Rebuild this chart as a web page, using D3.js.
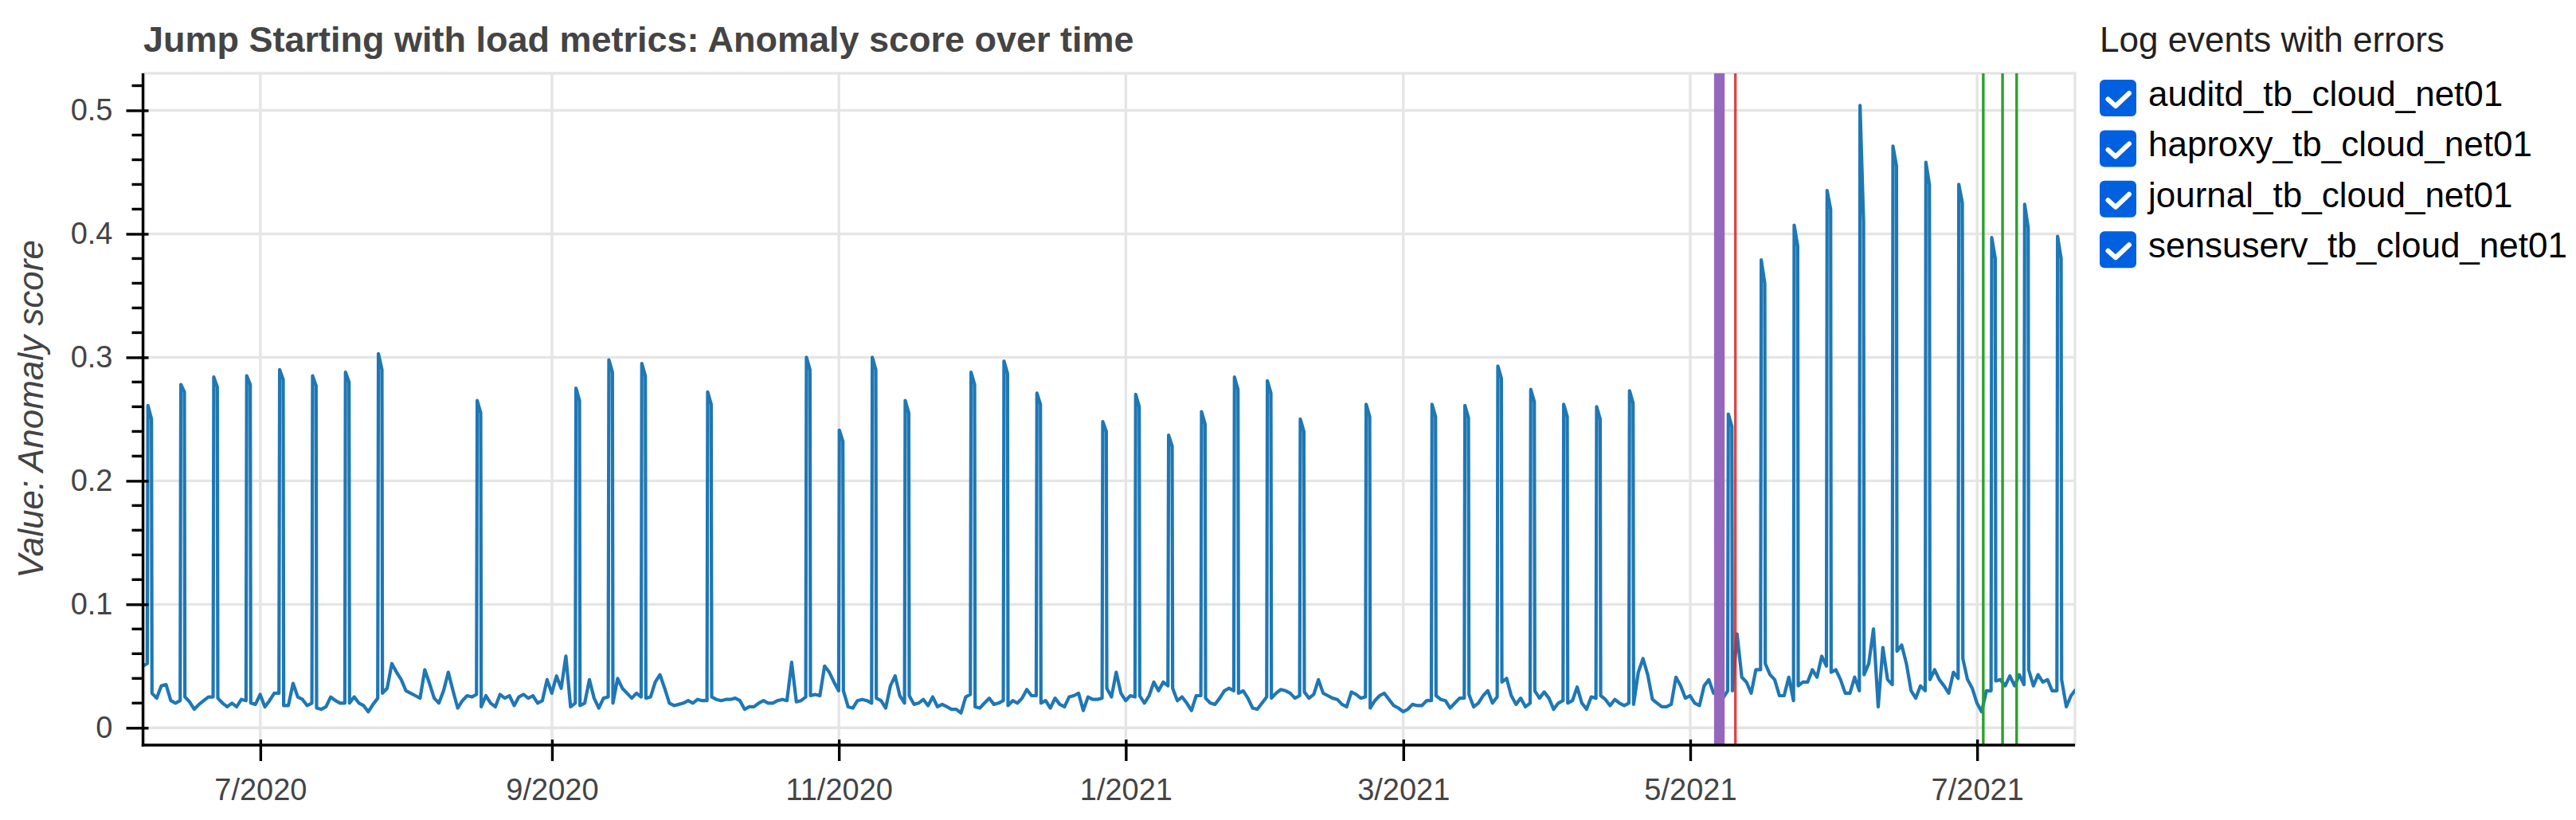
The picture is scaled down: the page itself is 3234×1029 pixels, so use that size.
<!DOCTYPE html>
<html><head><meta charset="utf-8">
<script src="https://cdn.jsdelivr.net/npm/d3@7"></script>
<style>
html,body{margin:0;padding:0;background:#fff;}
svg{display:block;}
</style></head><body>
<svg id="chart" width="3234" height="1029"></svg>
<script>
// ---------------- DATA ----------------
const chartTitle = "Jump Starting with load metrics: Anomaly score over time";
const yAxisLabel = "Value: Anomaly score";
const legendTitle = "Log events with errors";
const logNames = ["auditd_tb_cloud_net01", "haproxy_tb_cloud_net01", "journal_tb_cloud_net01", "sensuserv_tb_cloud_net01"];

// daily anomaly score samples (baseline between the weekly spikes)
const seriesStart = "2020-06-05T23:00:00Z";
const seriesStepHours = 24;
const scores = [
0.050,0.052,0.028,0.024,0.034,0.035,0.022,0.020,0.022,0.025,
0.021,0.015,0.019,0.022,0.025,0.025,0.024,0.020,0.017,0.020,
0.017,0.023,0.022,0.020,0.019,0.027,0.017,0.022,0.028,0.028,
0.018,0.018,0.036,0.025,0.023,0.018,0.020,0.016,0.015,0.017,
0.025,0.022,0.020,0.020,0.020,0.025,0.020,0.018,0.013,0.019,
0.024,0.028,0.032,0.052,0.045,0.039,0.030,0.028,0.026,0.024,
0.047,0.036,0.024,0.020,0.030,0.045,0.030,0.016,0.022,0.026,
0.025,0.027,0.017,0.026,0.020,0.017,0.027,0.024,0.026,0.018,
0.025,0.027,0.024,0.026,0.020,0.022,0.039,0.028,0.042,0.032,
0.058,0.017,0.020,0.018,0.020,0.039,0.024,0.016,0.024,0.025,
0.020,0.040,0.032,0.028,0.024,0.028,0.025,0.024,0.025,0.037,
0.043,0.032,0.020,0.018,0.019,0.020,0.022,0.020,0.023,0.022,
0.022,0.025,0.023,0.022,0.023,0.023,0.024,0.022,0.015,0.017,
0.017,0.020,0.022,0.020,0.020,0.022,0.023,0.022,0.053,0.021,
0.022,0.025,0.026,0.027,0.026,0.050,0.045,0.037,0.030,0.030,
0.017,0.016,0.022,0.023,0.022,0.020,0.024,0.022,0.016,0.034,
0.042,0.026,0.020,0.026,0.019,0.020,0.023,0.018,0.025,0.017,
0.019,0.017,0.015,0.015,0.012,0.025,0.027,0.017,0.016,0.020,
0.024,0.019,0.020,0.022,0.018,0.022,0.020,0.024,0.031,0.026,
0.026,0.020,0.022,0.016,0.024,0.019,0.017,0.025,0.026,0.028,
0.014,0.025,0.023,0.023,0.024,0.032,0.025,0.045,0.028,0.022,
0.026,0.025,0.026,0.020,0.026,0.037,0.030,0.037,0.034,0.032,
0.022,0.025,0.020,0.014,0.026,0.026,0.024,0.020,0.019,0.024,
0.030,0.032,0.030,0.028,0.030,0.024,0.016,0.015,0.020,0.025,
0.024,0.028,0.031,0.030,0.028,0.024,0.026,0.029,0.024,0.027,
0.039,0.028,0.026,0.024,0.023,0.019,0.017,0.029,0.027,0.024,
0.025,0.016,0.022,0.026,0.028,0.023,0.018,0.016,0.013,0.015,
0.019,0.018,0.018,0.022,0.022,0.026,0.023,0.022,0.016,0.020,
0.024,0.024,0.027,0.017,0.020,0.026,0.030,0.020,0.025,0.037,
0.040,0.026,0.019,0.024,0.017,0.020,0.030,0.024,0.029,0.024,
0.015,0.020,0.022,0.020,0.022,0.033,0.020,0.015,0.025,0.024,
0.026,0.023,0.018,0.023,0.020,0.018,0.020,0.019,0.045,0.056,
0.043,0.023,0.020,0.017,0.017,0.019,0.041,0.034,0.024,0.026,
0.020,0.018,0.034,0.039,0.028,0.030,0.024,0.030,0.030,0.076,
0.041,0.037,0.028,0.047,0.047,0.052,0.043,0.039,0.026,0.026,
0.041,0.022,0.034,0.037,0.037,0.047,0.041,0.058,0.050,0.045,
0.047,0.039,0.028,0.028,0.041,0.030,0.043,0.052,0.080,0.017,
0.065,0.039,0.035,0.062,0.067,0.052,0.030,0.024,0.034,0.030,
0.039,0.047,0.039,0.034,0.028,0.045,0.040,0.056,0.039,0.032,
0.020,0.013,0.030,0.030,0.038,0.039,0.034,0.042,0.034,0.043,
0.035,0.047,0.034,0.043,0.037,0.039,0.030,0.030,0.039,0.017,
0.026,0.031
];

// weekly spikes: start time, peak value, value at end of the spike plateau
const spikeHours = 18;
const spikeTimes = [
"2020-06-07T02:24Z","2020-06-14T02:24Z","2020-06-21T02:24Z","2020-06-28T02:24Z","2020-07-05T02:24Z",
"2020-07-12T02:24Z","2020-07-19T02:24Z","2020-07-26T02:24Z","2020-08-16T02:24Z","2020-09-06T02:24Z",
"2020-09-13T02:24Z","2020-09-20T02:24Z","2020-10-04T02:24Z","2020-10-25T02:24Z","2020-11-01T02:24Z",
"2020-11-08T02:24Z","2020-11-15T02:24Z","2020-11-29T02:24Z","2020-12-06T02:24Z","2020-12-13T02:24Z",
"2020-12-27T02:24Z","2021-01-03T02:24Z","2021-01-10T02:24Z","2021-01-17T02:24Z","2021-01-24T02:24Z",
"2021-01-31T02:24Z","2021-02-07T02:24Z","2021-02-21T02:24Z","2021-03-07T02:24Z","2021-03-14T02:24Z",
"2021-03-21T02:24Z","2021-03-28T02:24Z","2021-04-04T02:24Z","2021-04-11T02:24Z","2021-04-18T02:24Z",
"2021-05-09T02:24Z","2021-05-16T02:24Z","2021-05-23T02:24Z","2021-05-30T02:24Z","2021-06-06T02:24Z",
"2021-06-13T02:24Z","2021-06-20T02:24Z","2021-06-27T02:24Z","2021-07-04T02:24Z","2021-07-11T02:24Z",
"2021-07-18T02:24Z"
];
const spikePeaks = [
0.261,0.278,0.284,0.285,0.290,0.285,0.288,0.303,0.265,0.275,
0.298,0.295,0.272,0.300,0.241,0.300,0.265,0.288,0.297,0.271,
0.248,0.270,0.237,0.256,0.284,0.281,0.250,0.262,0.262,0.261,
0.293,0.274,0.262,0.260,0.273,0.254,0.379,0.407,0.435,0.504,
0.471,0.458,0.440,0.397,0.424,0.398
];
const spikeTails = [
0.250,0.272,0.276,0.278,0.282,0.277,0.280,0.290,0.255,0.265,
0.288,0.285,0.262,0.290,0.232,0.290,0.255,0.278,0.287,0.262,
0.240,0.260,0.228,0.246,0.274,0.271,0.240,0.252,0.252,0.251,
0.283,0.264,0.252,0.250,0.263,0.244,0.360,0.390,0.420,0.410,
0.455,0.440,0.425,0.380,0.405,0.380
];

// log events with errors (vertical markers)
const eventLog   = ["sensuserv_tb_cloud_net01","journal_tb_cloud_net01","haproxy_tb_cloud_net01","haproxy_tb_cloud_net01","haproxy_tb_cloud_net01"];
const eventStart = ["2021-05-06T01:40Z","2021-05-10T14:24Z","2021-07-02T07:12Z","2021-07-06T09:36Z","2021-07-09T09:36Z"];
const eventEnd   = ["2021-05-08T07:40Z","2021-05-10T14:24Z","2021-07-02T07:12Z","2021-07-06T09:36Z","2021-07-09T09:36Z"];
const logColors  = ["#ff7f0e","#2ca02c","#d62728","#9467bd"];

const xDomain = ["2020-06-06T07:12Z","2021-07-21T19:12Z"];
const yDomain = [-0.014, 0.53];
const xTickDates  = ["2020-07-01Z","2020-09-01Z","2020-11-01Z","2021-01-01Z","2021-03-01Z","2021-05-01Z","2021-07-01Z"];
const xTickLabels = ["7/2020","9/2020","11/2020","1/2021","3/2021","5/2021","7/2021"];
const yTickValues = [0,0.1,0.2,0.3,0.4,0.5];
const yTickLabels = ["0","0.1","0.2","0.3","0.4","0.5"];
const yMinorStep = 0.02;

// ---------------- DRAW ----------------
const FONT = '"Liberation Sans", Arial, Helvetica, sans-serif';
const svg = d3.select("#chart");
const frame = {left: 181, right: 2605, top: 92, bottom: 935};

const parse = s => new Date(s.endsWith("Z") && s.length <= 11 ? s.slice(0,-1) + "T00:00:00Z" : s);
const x = d3.scaleUtc().domain(xDomain.map(parse)).range([frame.left, frame.right]);
const y = d3.scaleLinear().domain(yDomain).range([frame.bottom, frame.top]);

// build series
const t0 = parse(seriesStart).getTime();
let pts = scores.map((v, i) => ({t: new Date(t0 + i * seriesStepHours * 3600e3), v}));
spikeTimes.forEach((s, i) => {
  const ts = parse(s);
  pts.push({t: ts, v: spikePeaks[i]});
  pts.push({t: new Date(ts.getTime() + spikeHours * 3600e3), v: spikeTails[i]});
});
pts.sort((a, b) => a.t - b.t);

const defs = svg.append("defs");
defs.append("clipPath").attr("id", "clip").append("rect")
  .attr("x", frame.left).attr("y", frame.top)
  .attr("width", frame.right - frame.left).attr("height", frame.bottom - frame.top);

const GRID = "#e5e5e5";
// grid
const grid = svg.append("g");
grid.selectAll(".gy").data(yTickValues).join("line")
  .attr("x1", frame.left).attr("x2", frame.right)
  .attr("y1", d => y(d)).attr("y2", d => y(d))
  .attr("stroke", GRID).attr("stroke-width", 3.4);
grid.selectAll(".gx").data(xTickDates).join("line")
  .attr("x1", d => x(parse(d))).attr("x2", d => x(parse(d)))
  .attr("y1", frame.top).attr("y2", frame.bottom)
  .attr("stroke", GRID).attr("stroke-width", 3.4);
// outline
svg.append("rect").attr("x", frame.left).attr("y", frame.top)
  .attr("width", frame.right - frame.left).attr("height", frame.bottom - frame.top)
  .attr("fill", "none").attr("stroke", GRID).attr("stroke-width", 3.4);

// line
const line = d3.line().x(d => x(d.t)).y(d => y(d.v));
svg.append("path").datum(pts)
  .attr("clip-path", "url(#clip)")
  .attr("d", line).attr("fill", "none")
  .attr("stroke", "#1f77b4").attr("stroke-width", 4.2)
  .attr("stroke-linejoin", "round");

// events
const evG = svg.append("g").attr("clip-path", "url(#clip)");
eventStart.forEach((s, i) => {
  const col = logColors[logNames.indexOf(eventLog[i])];
  const x0 = x(parse(s)), x1 = x(parse(eventEnd[i]));
  const w = Math.max(3.4, x1 - x0);
  evG.append("rect")
    .attr("x", (x0 + x1) / 2 - w / 2).attr("y", frame.top)
    .attr("width", w).attr("height", frame.bottom - frame.top)
    .attr("fill", col).attr("opacity", col === "#d62728" ? 0.85 : 1);
});

// axes
const AX = "#000", LBL = "#444";
const yAxisG = svg.append("g").attr("transform", `translate(${frame.left - 1.5},0)`);
yAxisG.call(d3.axisLeft(y).tickValues(yTickValues).tickFormat((d, i) => yTickLabels[i])
  .tickSize(21).tickSizeOuter(0).tickPadding(17));
yAxisG.select(".domain").remove();
yAxisG.selectAll(".tick line").attr("x1", 7).attr("stroke", AX).attr("stroke-width", 3.4);
yAxisG.selectAll(".tick text").attr("font-family", FONT).attr("font-size", 38).attr("fill", LBL);
const minorVals = d3.range(0, yDomain[1], yMinorStep).filter(v => !yTickValues.some(t => Math.abs(t - v) < 1e-9));
yAxisG.selectAll(".minor").data(minorVals).join("line")
  .attr("x1", 0).attr("x2", -14).attr("y1", d => y(d)).attr("y2", d => y(d))
  .attr("stroke", AX).attr("stroke-width", 3.4);
yAxisG.append("line").attr("x1", 0).attr("x2", 0).attr("y1", frame.top).attr("y2", frame.bottom + 1.7)
  .attr("stroke", AX).attr("stroke-width", 3.4);

const xAxisG = svg.append("g").attr("transform", `translate(0,${frame.bottom})`);
xAxisG.call(d3.axisBottom(x).tickValues(xTickDates.map(parse)).tickFormat((d, i) => xTickLabels[i])
  .tickSize(20).tickSizeOuter(0).tickPadding(22));
xAxisG.select(".domain").remove();
xAxisG.selectAll(".tick line").attr("y1", -7).attr("stroke", AX).attr("stroke-width", 3.4);
xAxisG.selectAll(".tick text").attr("font-family", FONT).attr("font-size", 38).attr("fill", LBL);
xAxisG.append("line").attr("x1", frame.left - 3.2).attr("x2", frame.right).attr("y1", 0).attr("y2", 0)
  .attr("stroke", AX).attr("stroke-width", 3.4);

// title & axis label
svg.append("text").attr("x", 180).attr("y", 65).text(chartTitle)
  .attr("font-family", FONT).attr("font-weight", "bold").attr("font-size", 45).attr("fill", LBL);
svg.append("text").attr("transform", `translate(54,${(frame.top + frame.bottom) / 2}) rotate(-90)`)
  .attr("text-anchor", "middle").text(yAxisLabel)
  .attr("font-family", FONT).attr("font-style", "italic").attr("font-size", 44).attr("fill", LBL);

// legend (checkbox group)
const lg = svg.append("g");
lg.append("text").attr("x", 2636).attr("y", 65).text(legendTitle)
  .attr("font-family", FONT).attr("font-size", 44).attr("fill", "#222");
const rows = lg.selectAll(".row").data(logNames).join("g")
  .attr("transform", (d, i) => `translate(2636,${100 + i * 63.4})`);
rows.append("rect").attr("width", 46).attr("height", 46).attr("rx", 6)
  .attr("fill", "#0060df");
rows.append("path").attr("d", "M10.5,24.5 L20,33 L37,17")
  .attr("fill", "none").attr("stroke", "#fff").attr("stroke-width", 6)
  .attr("stroke-linecap", "round").attr("stroke-linejoin", "round");
rows.append("text").attr("x", 61).attr("y", 33).text(d => d)
  .attr("font-family", FONT).attr("font-size", 44).attr("fill", "#000");
</script>
</body></html>
